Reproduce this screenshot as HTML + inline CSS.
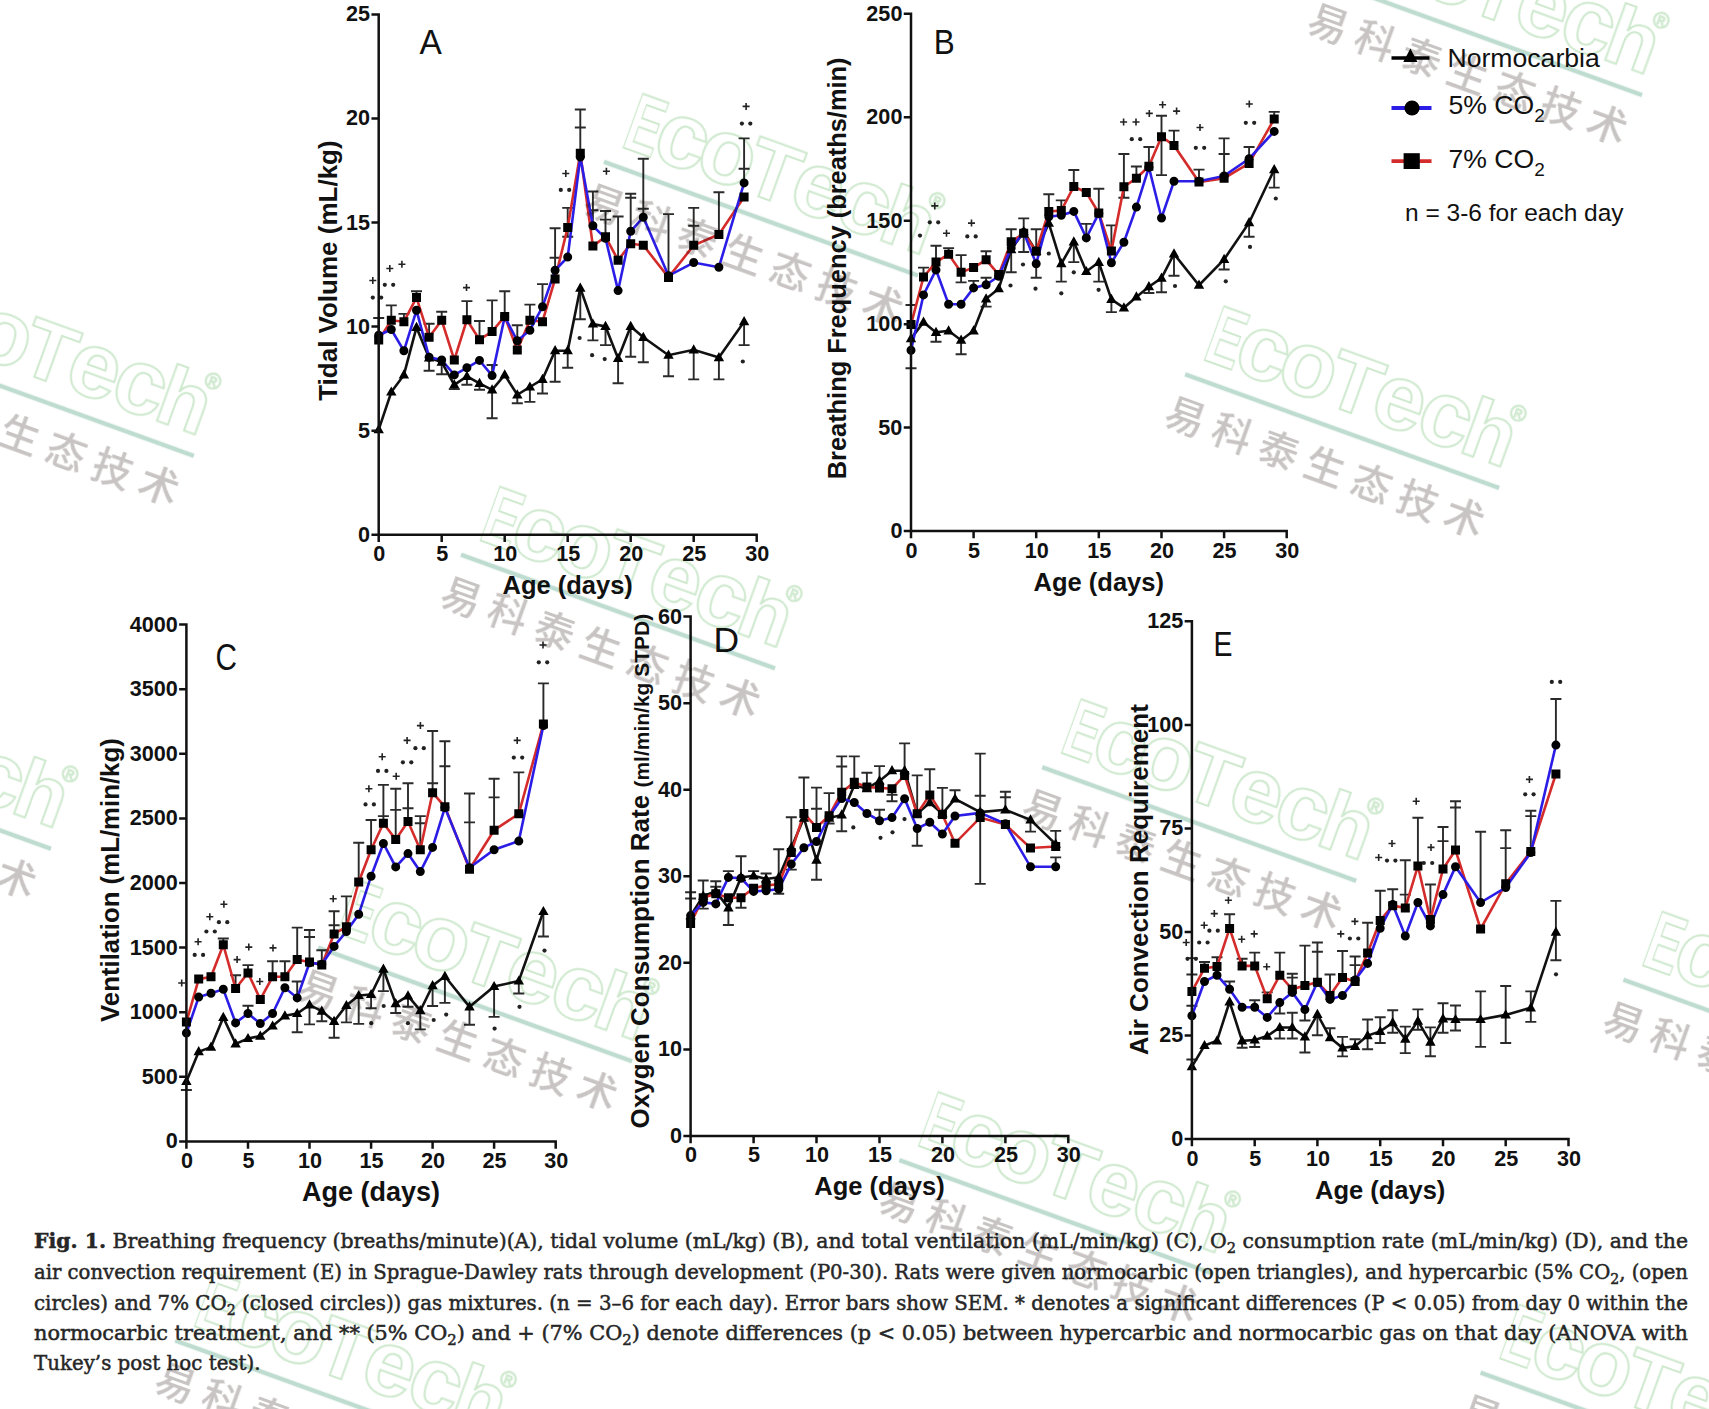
<!DOCTYPE html><html><head><meta charset="utf-8"><title>Fig. 1</title><style>html,body{margin:0;padding:0;background:#fff}body{width:1709px;height:1409px;overflow:hidden;position:relative}svg{position:absolute;left:0;top:0}</style></head><body>
<svg width="1709" height="1409" viewBox="0 0 1709 1409">
<rect width="1709" height="1409" fill="#fff"/>
<g><path d="M378.7 335.2V318M373.2 318H384.2M391.3 320.3V305.4M385.8 305.4H396.8M403.9 321.7V313.9M398.4 313.9H409.4M416.5 297.6V291.2M411 291.2H422M429.1 337.3V323.8M423.6 323.8H434.6M429.1 357.9V370.7M423.6 370.7H434.6M441.7 320.3V311.7M436.2 311.7H447.2M441.7 362.1V374.2M436.2 374.2H447.2M454.3 384.8V389.1M448.8 389.1H459.8M466.9 319.8V301.1M461.4 301.1H472.4M466.9 376.3V384.8M461.4 384.8H472.4M479.5 339.7V321M474 321H485M479.5 383.4V389.8M474 389.8H485M492.1 331.6V300.4M486.6 300.4H497.6M492.1 375.6V365M486.6 365H497.6M492.1 389.8V418.2M486.6 418.2H497.6M504.7 316.4V291.2M499.2 291.2H510.2M517.3 340.8V325.2M511.8 325.2H522.8M517.3 394.8V403.3M511.8 403.3H522.8M529.9 320.3V304.6M524.4 304.6H535.4M529.9 387V401.9M524.4 401.9H535.4M542.5 306.8V284.1M537 284.1H548M542.5 379.3V393.5M537 393.5H548M555.1 270.3V228.2M549.6 228.2H560.6M555.1 270.3V257.8M549.6 257.8H560.6M555.1 350.7V381.8M549.6 381.8H560.6M567.7 227.4V207.9M562.2 207.9H573.2M567.7 227.4V236.8M562.2 236.8H573.2M567.7 350.6V367.7M562.2 367.7H573.2M580.3 153.2V109.5M574.8 109.5H585.8M580.3 153.2V127.5M574.8 127.5H585.8M580.3 288.1V319.3M574.8 319.3H585.8M592.9 225.8V191.5M587.4 191.5H598.4M592.9 225.8V210.2M587.4 210.2H598.4M592.9 324V340.4M587.4 340.4H598.4M605.5 236.8V211M600 211H611M605.5 236.8V219.6M600 219.6H611M605.5 326.4V345.1M600 345.1H611M618.1 260.2V216.5M612.6 216.5H623.6M618.1 358.4V383.3M612.6 383.3H623.6M630.7 231.3V193.8M625.2 193.8H636.2M630.7 231.3V197.7M625.2 197.7H636.2M630.7 326.4V356.8M625.2 356.8H636.2M643.3 217.2V158.7M637.8 158.7H648.8M643.3 217.2V208.7M637.8 208.7H648.8M643.3 337.3V362.3M637.8 362.3H648.8M668.5 275.8V214.1M663 214.1H674M668.5 355.2V376.3M663 376.3H674M693.7 245.3V207.9M688.2 207.9H699.2M693.7 245.3V225.8M688.2 225.8H699.2M693.7 349.8V379.4M688.2 379.4H699.2M718.9 234.4V192.3M713.4 192.3H724.4M718.9 357.6V379.4M713.4 379.4H724.4M744.1 182.9V138.4M738.6 138.4H749.6M744.1 182.9V168.8M738.6 168.8H749.6M744.1 321.7V345.1M738.6 345.1H749.6" stroke="#2a2a2a" stroke-width="1.9" fill="none"/><polyline points="378.7,429.6 391.3,392 403.9,374.9 416.5,327.4 429.1,357.9 441.7,362.1 454.3,384.8 466.9,376.3 479.5,383.4 492.1,389.8 504.7,374.9 517.3,394.8 529.9,387 542.5,379.3 555.1,350.7 567.7,350.6 580.3,288.1 592.9,324 605.5,326.4 618.1,358.4 630.7,326.4 643.3,337.3 668.5,355.2 693.7,349.8 718.9,357.6 744.1,321.7" fill="none" stroke="#111" stroke-width="2.6" stroke-linejoin="miter"/><polyline points="378.7,340.1 391.3,320.3 403.9,321.7 416.5,297.6 429.1,337.3 441.7,320.3 454.3,360 466.9,319.8 479.5,339.7 492.1,331.6 504.7,316.4 517.3,350.1 529.9,320.3 542.5,321.7 555.1,278.9 567.7,227.4 580.3,153.2 592.9,246.1 605.5,236.8 618.1,260.2 630.7,243.8 643.3,245.3 668.5,277.4 693.7,245.3 718.9,234.4 744.1,197" fill="none" stroke="#d42b2b" stroke-width="2.6" stroke-linejoin="miter"/><polyline points="378.7,335.2 391.3,329.5 403.9,350.8 416.5,310.3 429.1,357.2 441.7,360 454.3,374.9 466.9,367.8 479.5,360.4 492.1,375.6 504.7,316.7 517.3,340.8 529.9,330.2 542.5,306.8 555.1,270.3 567.7,257.1 580.3,157.1 592.9,225.8 605.5,238.3 618.1,290.6 630.7,231.3 643.3,217.2 668.5,275.8 693.7,262.5 718.9,267.2 744.1,182.9" fill="none" stroke="#2b1de6" stroke-width="2.6" stroke-linejoin="miter"/><path d="M378.7 424L383.9 433.2L373.5 433.2ZM391.3 386.4L396.5 395.6L386.1 395.6ZM403.9 369.3L409.1 378.5L398.7 378.5ZM416.5 321.8L421.7 331L411.3 331ZM429.1 352.3L434.3 361.5L423.9 361.5ZM441.7 356.5L446.9 365.7L436.5 365.7ZM454.3 379.2L459.5 388.4L449.1 388.4ZM466.9 370.7L472.1 379.9L461.7 379.9ZM479.5 377.8L484.7 387L474.3 387ZM492.1 384.2L497.3 393.4L486.9 393.4ZM504.7 369.3L509.9 378.5L499.5 378.5ZM517.3 389.2L522.5 398.4L512.1 398.4ZM529.9 381.4L535.1 390.6L524.7 390.6ZM542.5 373.7L547.7 382.9L537.3 382.9ZM555.1 345.1L560.3 354.3L549.9 354.3ZM567.7 345L572.9 354.2L562.5 354.2ZM580.3 282.5L585.5 291.7L575.1 291.7ZM592.9 318.4L598.1 327.6L587.7 327.6ZM605.5 320.8L610.7 330L600.3 330ZM618.1 352.8L623.3 362L612.9 362ZM630.7 320.8L635.9 330L625.5 330ZM643.3 331.7L648.5 340.9L638.1 340.9ZM668.5 349.6L673.7 358.8L663.3 358.8ZM693.7 344.2L698.9 353.4L688.5 353.4ZM718.9 352L724.1 361.2L713.7 361.2ZM744.1 316.1L749.3 325.3L738.9 325.3Z" fill="#000"/><path d="M374.2 335.6h9v9h-9ZM386.8 315.8h9v9h-9ZM399.4 317.2h9v9h-9ZM412 293.1h9v9h-9ZM424.6 332.8h9v9h-9ZM437.2 315.8h9v9h-9ZM449.8 355.5h9v9h-9ZM462.4 315.3h9v9h-9ZM475 335.2h9v9h-9ZM487.6 327.1h9v9h-9ZM500.2 311.9h9v9h-9ZM512.8 345.6h9v9h-9ZM525.4 315.8h9v9h-9ZM538 317.2h9v9h-9ZM550.6 274.4h9v9h-9ZM563.2 222.9h9v9h-9ZM575.8 148.7h9v9h-9ZM588.4 241.6h9v9h-9ZM601 232.3h9v9h-9ZM613.6 255.7h9v9h-9ZM626.2 239.3h9v9h-9ZM638.8 240.8h9v9h-9ZM664 272.9h9v9h-9ZM689.2 240.8h9v9h-9ZM714.4 229.9h9v9h-9ZM739.6 192.5h9v9h-9Z" fill="#000"/><path d="M374.2 335.2a4.5 4.5 0 1 0 9 0a4.5 4.5 0 1 0 -9 0ZM386.8 329.5a4.5 4.5 0 1 0 9 0a4.5 4.5 0 1 0 -9 0ZM399.4 350.8a4.5 4.5 0 1 0 9 0a4.5 4.5 0 1 0 -9 0ZM412 310.3a4.5 4.5 0 1 0 9 0a4.5 4.5 0 1 0 -9 0ZM424.6 357.2a4.5 4.5 0 1 0 9 0a4.5 4.5 0 1 0 -9 0ZM437.2 360a4.5 4.5 0 1 0 9 0a4.5 4.5 0 1 0 -9 0ZM449.8 374.9a4.5 4.5 0 1 0 9 0a4.5 4.5 0 1 0 -9 0ZM462.4 367.8a4.5 4.5 0 1 0 9 0a4.5 4.5 0 1 0 -9 0ZM475 360.4a4.5 4.5 0 1 0 9 0a4.5 4.5 0 1 0 -9 0ZM487.6 375.6a4.5 4.5 0 1 0 9 0a4.5 4.5 0 1 0 -9 0ZM500.2 316.7a4.5 4.5 0 1 0 9 0a4.5 4.5 0 1 0 -9 0ZM512.8 340.8a4.5 4.5 0 1 0 9 0a4.5 4.5 0 1 0 -9 0ZM525.4 330.2a4.5 4.5 0 1 0 9 0a4.5 4.5 0 1 0 -9 0ZM538 306.8a4.5 4.5 0 1 0 9 0a4.5 4.5 0 1 0 -9 0ZM550.6 270.3a4.5 4.5 0 1 0 9 0a4.5 4.5 0 1 0 -9 0ZM563.2 257.1a4.5 4.5 0 1 0 9 0a4.5 4.5 0 1 0 -9 0ZM575.8 157.1a4.5 4.5 0 1 0 9 0a4.5 4.5 0 1 0 -9 0ZM588.4 225.8a4.5 4.5 0 1 0 9 0a4.5 4.5 0 1 0 -9 0ZM601 238.3a4.5 4.5 0 1 0 9 0a4.5 4.5 0 1 0 -9 0ZM613.6 290.6a4.5 4.5 0 1 0 9 0a4.5 4.5 0 1 0 -9 0ZM626.2 231.3a4.5 4.5 0 1 0 9 0a4.5 4.5 0 1 0 -9 0ZM638.8 217.2a4.5 4.5 0 1 0 9 0a4.5 4.5 0 1 0 -9 0ZM664 275.8a4.5 4.5 0 1 0 9 0a4.5 4.5 0 1 0 -9 0ZM689.2 262.5a4.5 4.5 0 1 0 9 0a4.5 4.5 0 1 0 -9 0ZM714.4 267.2a4.5 4.5 0 1 0 9 0a4.5 4.5 0 1 0 -9 0ZM739.6 182.9a4.5 4.5 0 1 0 9 0a4.5 4.5 0 1 0 -9 0Z" fill="#000"/><path d="M369.3 280.5h7M372.8 277v7" stroke="#222" stroke-width="1.6"/><path d="M386.3 268.5h7M389.8 265v7" stroke="#222" stroke-width="1.6"/><path d="M398.4 264.2h7M401.9 260.7v7" stroke="#222" stroke-width="1.6"/><path d="M463 287.6h7M466.5 284.1v7" stroke="#222" stroke-width="1.6"/><path d="M562.3 173.5h7M565.8 170v7" stroke="#222" stroke-width="1.6"/><path d="M602.9 171.2h7M606.4 167.7v7" stroke="#222" stroke-width="1.6"/><path d="M742.6 106.4h7M746.1 102.9v7" stroke="#222" stroke-width="1.6"/><circle cx="384.8" cy="284.8" r="2.1" fill="#222"/><circle cx="393.2" cy="284.8" r="2.1" fill="#222"/><circle cx="372.8" cy="297.6" r="2.1" fill="#222"/><circle cx="381.2" cy="297.6" r="2.1" fill="#222"/><circle cx="560.8" cy="189.9" r="2.1" fill="#222"/><circle cx="569.2" cy="189.9" r="2.1" fill="#222"/><circle cx="741.9" cy="123.6" r="2.1" fill="#222"/><circle cx="750.3" cy="123.6" r="2.1" fill="#222"/><circle cx="579.6" cy="338" r="2.1" fill="#222"/><circle cx="592.1" cy="355.2" r="2.1" fill="#222"/><circle cx="604.7" cy="359.1" r="2.1" fill="#222"/><circle cx="742.8" cy="361.5" r="2.1" fill="#222"/><path d="M378.7 14.5V534.7H756.7M378.7 534.7v6M441.7 534.7v6M504.7 534.7v6M567.7 534.7v6M630.7 534.7v6M693.7 534.7v6M756.7 534.7v6M378.7 534.7h-6M378.7 430.7h-6M378.7 326.6h-6M378.7 222.6h-6M378.7 118.5h-6M378.7 14.5h-6" stroke="#111" stroke-width="2.5" fill="none" stroke-linecap="square"/><g font-family='"Liberation Sans", Arial, sans-serif' font-weight="bold" font-size="21.6" fill="#111"><text x="379.2" y="561.2" text-anchor="middle">0</text><text x="442.2" y="561.2" text-anchor="middle">5</text><text x="505.2" y="561.2" text-anchor="middle">10</text><text x="568.2" y="561.2" text-anchor="middle">15</text><text x="631.2" y="561.2" text-anchor="middle">20</text><text x="694.2" y="561.2" text-anchor="middle">25</text><text x="757.2" y="561.2" text-anchor="middle">30</text><text x="370.1" y="541.6" text-anchor="end">0</text><text x="370.1" y="437.6" text-anchor="end">5</text><text x="370.1" y="333.5" text-anchor="end">10</text><text x="370.1" y="229.5" text-anchor="end">15</text><text x="370.1" y="125.4" text-anchor="end">20</text><text x="370.1" y="21.4" text-anchor="end">25</text></g><text x="567.7" y="594.2" text-anchor="middle" font-family='"Liberation Sans", Arial, sans-serif' font-weight="bold" font-size="25.5" fill="#111">Age (days)</text></g>
<g><path d="M911 324.6V305M905.5 305H916.5M911 350.3V368.3M905.5 368.3H916.5M923.5 277V267.6M918 267.6H929M936 262.1V245.7M930.5 245.7H941.5M936 332.4V341.7M930.5 341.7H941.5M948.6 254.3V248.1M943.1 248.1H954.1M961.1 272.3V255.1M955.6 255.1H966.6M961.1 272.3V282.4M955.6 282.4H966.6M961.1 340.2V354.2M955.6 354.2H966.6M973.6 287.9V280.9M968.1 280.9H979.1M986.1 259.8V251.2M980.6 251.2H991.6M986.1 284.8V277.7M980.6 277.7H991.6M986.1 298.8V306.6M980.6 306.6H991.6M1011.2 241.8V229.3M1005.7 229.3H1016.7M1011.2 249.6V272.3M1005.7 272.3H1016.7M1023.7 231.7V218.4M1018.2 218.4H1029.2M1023.7 233.2V252M1018.2 252H1029.2M1036.2 251.2V229.3M1030.7 229.3H1041.7M1036.2 263.7V277.7M1030.7 277.7H1041.7M1048.8 211.4V194.2M1043.3 194.2H1054.3M1061.3 210.6V200.4M1055.8 200.4H1066.8M1061.3 263.7V281.6M1055.8 281.6H1066.8M1073.8 186.4V170M1068.3 170H1079.3M1073.8 241.8V262.1M1068.3 262.1H1079.3M1086.3 237.9V223.9M1080.8 223.9H1091.8M1098.8 213.1V188.7M1093.3 188.7H1104.3M1098.8 262.3V281.6M1093.3 281.6H1104.3M1111.4 251V225.4M1105.9 225.4H1116.9M1111.4 299.4V312.1M1105.9 312.1H1116.9M1123.9 186.8V154M1118.4 154H1129.4M1123.9 186.8V197.7M1118.4 197.7H1129.4M1136.4 178.2V166.5M1130.9 166.5H1141.9M1148.9 166.2V147M1143.4 147H1154.4M1148.9 286.7V293M1143.4 293H1154.4M1161.5 136.8V115.8M1156 115.8H1167M1161.5 136.8V175.1M1156 175.1H1167M1161.5 278.1V292.2M1156 292.2H1167M1174 145.4V130.6M1168.5 130.6H1179.5M1174 253.9V275.8M1168.5 275.8H1179.5M1199 181.3V169.6M1193.5 169.6H1204.5M1224.1 175.9V138.4M1218.6 138.4H1229.6M1224.1 175.9V154M1218.6 154H1229.6M1224.1 259.4V269.5M1218.6 269.5H1229.6M1249.1 158.7V147M1243.6 147H1254.6M1249.1 222.7V236.8M1243.6 236.8H1254.6M1274.2 118.9V111.9M1268.7 111.9H1279.7M1274.2 169.6V187.6M1268.7 187.6H1279.7" stroke="#2a2a2a" stroke-width="1.9" fill="none"/><polyline points="911,338.6 923.5,322.2 936,332.4 948.6,330.8 961.1,340.2 973.6,330.8 986.1,298.8 998.7,288.7 1011.2,249.6 1023.7,231.7 1036.2,251.2 1048.8,223.1 1061.3,263.7 1073.8,241.8 1086.3,271.5 1098.8,262.3 1111.4,299.4 1123.9,307.8 1136.4,296.9 1148.9,286.7 1161.5,278.1 1174,253.9 1199,285.2 1224.1,259.4 1249.1,222.7 1274.2,169.6" fill="none" stroke="#111" stroke-width="2.6" stroke-linejoin="miter"/><polyline points="911,324.6 923.5,277 936,262.1 948.6,254.3 961.1,272.3 973.6,267.6 986.1,259.8 998.7,274.6 1011.2,241.8 1023.7,233.2 1036.2,251.2 1048.8,211.4 1061.3,210.6 1073.8,186.4 1086.3,192.6 1098.8,213.1 1111.4,251 1123.9,186.8 1136.4,178.2 1148.9,166.2 1161.5,136.8 1174,145.4 1199,182.1 1224.1,178.2 1249.1,163.4 1274.2,118.9" fill="none" stroke="#d42b2b" stroke-width="2.6" stroke-linejoin="miter"/><polyline points="911,350.3 923.5,294.9 936,269.9 948.6,304.3 961.1,304.3 973.6,287.9 986.1,284.8 998.7,276.2 1011.2,248.1 1023.7,232.5 1036.2,263.7 1048.8,216.8 1061.3,215.3 1073.8,211.4 1086.3,237.9 1098.8,213.5 1111.4,262.7 1123.9,242.2 1136.4,207.1 1148.9,167.3 1161.5,218 1174,181.3 1199,181.3 1224.1,175.9 1249.1,158.7 1274.2,131.4" fill="none" stroke="#2b1de6" stroke-width="2.6" stroke-linejoin="miter"/><path d="M911 333L916.2 342.2L905.8 342.2ZM923.5 316.6L928.7 325.8L918.3 325.8ZM936 326.8L941.2 336L930.8 336ZM948.6 325.2L953.8 334.4L943.4 334.4ZM961.1 334.6L966.3 343.8L955.9 343.8ZM973.6 325.2L978.8 334.4L968.4 334.4ZM986.1 293.2L991.3 302.4L980.9 302.4ZM998.7 283.1L1003.9 292.3L993.5 292.3ZM1011.2 244L1016.4 253.2L1006 253.2ZM1023.7 226.1L1028.9 235.3L1018.5 235.3ZM1036.2 245.6L1041.4 254.8L1031 254.8ZM1048.8 217.5L1054 226.7L1043.6 226.7ZM1061.3 258.1L1066.5 267.3L1056.1 267.3ZM1073.8 236.2L1079 245.4L1068.6 245.4ZM1086.3 265.9L1091.5 275.1L1081.1 275.1ZM1098.8 256.7L1104 265.9L1093.6 265.9ZM1111.4 293.8L1116.6 303L1106.2 303ZM1123.9 302.2L1129.1 311.4L1118.7 311.4ZM1136.4 291.3L1141.6 300.5L1131.2 300.5ZM1148.9 281.1L1154.1 290.3L1143.7 290.3ZM1161.5 272.5L1166.7 281.7L1156.3 281.7ZM1174 248.3L1179.2 257.5L1168.8 257.5ZM1199 279.6L1204.2 288.8L1193.8 288.8ZM1224.1 253.8L1229.3 263L1218.9 263ZM1249.1 217.1L1254.3 226.3L1243.9 226.3ZM1274.2 164L1279.4 173.2L1269 173.2Z" fill="#000"/><path d="M906.5 320.1h9v9h-9ZM919 272.5h9v9h-9ZM931.5 257.6h9v9h-9ZM944.1 249.8h9v9h-9ZM956.6 267.8h9v9h-9ZM969.1 263.1h9v9h-9ZM981.6 255.3h9v9h-9ZM994.2 270.1h9v9h-9ZM1006.7 237.3h9v9h-9ZM1019.2 228.7h9v9h-9ZM1031.7 246.7h9v9h-9ZM1044.3 206.9h9v9h-9ZM1056.8 206.1h9v9h-9ZM1069.3 181.9h9v9h-9ZM1081.8 188.1h9v9h-9ZM1094.3 208.6h9v9h-9ZM1106.9 246.5h9v9h-9ZM1119.4 182.3h9v9h-9ZM1131.9 173.7h9v9h-9ZM1144.4 161.7h9v9h-9ZM1157 132.3h9v9h-9ZM1169.5 140.9h9v9h-9ZM1194.5 177.6h9v9h-9ZM1219.6 173.7h9v9h-9ZM1244.6 158.9h9v9h-9ZM1269.7 114.4h9v9h-9Z" fill="#000"/><path d="M906.5 350.3a4.5 4.5 0 1 0 9 0a4.5 4.5 0 1 0 -9 0ZM919 294.9a4.5 4.5 0 1 0 9 0a4.5 4.5 0 1 0 -9 0ZM931.5 269.9a4.5 4.5 0 1 0 9 0a4.5 4.5 0 1 0 -9 0ZM944.1 304.3a4.5 4.5 0 1 0 9 0a4.5 4.5 0 1 0 -9 0ZM956.6 304.3a4.5 4.5 0 1 0 9 0a4.5 4.5 0 1 0 -9 0ZM969.1 287.9a4.5 4.5 0 1 0 9 0a4.5 4.5 0 1 0 -9 0ZM981.6 284.8a4.5 4.5 0 1 0 9 0a4.5 4.5 0 1 0 -9 0ZM994.2 276.2a4.5 4.5 0 1 0 9 0a4.5 4.5 0 1 0 -9 0ZM1006.7 248.1a4.5 4.5 0 1 0 9 0a4.5 4.5 0 1 0 -9 0ZM1019.2 232.5a4.5 4.5 0 1 0 9 0a4.5 4.5 0 1 0 -9 0ZM1031.7 263.7a4.5 4.5 0 1 0 9 0a4.5 4.5 0 1 0 -9 0ZM1044.3 216.8a4.5 4.5 0 1 0 9 0a4.5 4.5 0 1 0 -9 0ZM1056.8 215.3a4.5 4.5 0 1 0 9 0a4.5 4.5 0 1 0 -9 0ZM1069.3 211.4a4.5 4.5 0 1 0 9 0a4.5 4.5 0 1 0 -9 0ZM1081.8 237.9a4.5 4.5 0 1 0 9 0a4.5 4.5 0 1 0 -9 0ZM1094.3 213.5a4.5 4.5 0 1 0 9 0a4.5 4.5 0 1 0 -9 0ZM1106.9 262.7a4.5 4.5 0 1 0 9 0a4.5 4.5 0 1 0 -9 0ZM1119.4 242.2a4.5 4.5 0 1 0 9 0a4.5 4.5 0 1 0 -9 0ZM1131.9 207.1a4.5 4.5 0 1 0 9 0a4.5 4.5 0 1 0 -9 0ZM1144.4 167.3a4.5 4.5 0 1 0 9 0a4.5 4.5 0 1 0 -9 0ZM1157 218a4.5 4.5 0 1 0 9 0a4.5 4.5 0 1 0 -9 0ZM1169.5 181.3a4.5 4.5 0 1 0 9 0a4.5 4.5 0 1 0 -9 0ZM1194.5 181.3a4.5 4.5 0 1 0 9 0a4.5 4.5 0 1 0 -9 0ZM1219.6 175.9a4.5 4.5 0 1 0 9 0a4.5 4.5 0 1 0 -9 0ZM1244.6 158.7a4.5 4.5 0 1 0 9 0a4.5 4.5 0 1 0 -9 0ZM1269.7 131.4a4.5 4.5 0 1 0 9 0a4.5 4.5 0 1 0 -9 0Z" fill="#000"/><path d="M931.3 205.9h7M934.8 202.4v7" stroke="#222" stroke-width="1.6"/><path d="M943 233.2h7M946.5 229.7v7" stroke="#222" stroke-width="1.6"/><path d="M968 223.1h7M971.5 219.6v7" stroke="#222" stroke-width="1.6"/><path d="M1120.1 122h7M1123.6 118.5v7" stroke="#222" stroke-width="1.6"/><path d="M1132.5 122h7M1136 118.5v7" stroke="#222" stroke-width="1.6"/><path d="M1145.8 113.4h7M1149.3 109.9v7" stroke="#222" stroke-width="1.6"/><path d="M1159.1 104.8h7M1162.6 101.3v7" stroke="#222" stroke-width="1.6"/><path d="M1173.1 111.1h7M1176.6 107.6v7" stroke="#222" stroke-width="1.6"/><path d="M1196.5 127.5h7M1200 124v7" stroke="#222" stroke-width="1.6"/><path d="M1245.8 104h7M1249.3 100.5v7" stroke="#222" stroke-width="1.6"/><circle cx="929.8" cy="222.3" r="2.1" fill="#222"/><circle cx="938.2" cy="222.3" r="2.1" fill="#222"/><circle cx="967.3" cy="236.4" r="2.1" fill="#222"/><circle cx="975.7" cy="236.4" r="2.1" fill="#222"/><circle cx="1131.8" cy="139.2" r="2.1" fill="#222"/><circle cx="1140.2" cy="139.2" r="2.1" fill="#222"/><circle cx="1195.8" cy="147.8" r="2.1" fill="#222"/><circle cx="1204.2" cy="147.8" r="2.1" fill="#222"/><circle cx="1245.8" cy="122.8" r="2.1" fill="#222"/><circle cx="1254.2" cy="122.8" r="2.1" fill="#222"/><circle cx="920" cy="235.6" r="2.1" fill="#222"/><circle cx="1010.5" cy="285.5" r="2.1" fill="#222"/><circle cx="1023" cy="264.5" r="2.1" fill="#222"/><circle cx="1035.5" cy="288.7" r="2.1" fill="#222"/><circle cx="1048.8" cy="253.5" r="2.1" fill="#222"/><circle cx="1061.3" cy="293.3" r="2.1" fill="#222"/><circle cx="1073.8" cy="272.3" r="2.1" fill="#222"/><circle cx="1098.6" cy="289.8" r="2.1" fill="#222"/><circle cx="1175" cy="286" r="2.1" fill="#222"/><circle cx="1225.8" cy="281.3" r="2.1" fill="#222"/><circle cx="1250" cy="246.9" r="2.1" fill="#222"/><circle cx="1275.8" cy="198.5" r="2.1" fill="#222"/><path d="M911 13.8V531.1H1286.7M911 531.1v6M973.6 531.1v6M1036.2 531.1v6M1098.8 531.1v6M1161.5 531.1v6M1224.1 531.1v6M1286.7 531.1v6M911 531.1h-6M911 427.6h-6M911 324.2h-6M911 220.7h-6M911 117.2h-6M911 13.8h-6" stroke="#111" stroke-width="2.5" fill="none" stroke-linecap="square"/><g font-family='"Liberation Sans", Arial, sans-serif' font-weight="bold" font-size="21.6" fill="#111"><text x="911.5" y="557.6" text-anchor="middle">0</text><text x="974.1" y="557.6" text-anchor="middle">5</text><text x="1036.7" y="557.6" text-anchor="middle">10</text><text x="1099.3" y="557.6" text-anchor="middle">15</text><text x="1162" y="557.6" text-anchor="middle">20</text><text x="1224.6" y="557.6" text-anchor="middle">25</text><text x="1287.2" y="557.6" text-anchor="middle">30</text><text x="902.4" y="538" text-anchor="end">0</text><text x="902.4" y="434.5" text-anchor="end">50</text><text x="902.4" y="331.1" text-anchor="end">100</text><text x="902.4" y="227.6" text-anchor="end">150</text><text x="902.4" y="124.1" text-anchor="end">200</text><text x="902.4" y="20.6" text-anchor="end">250</text></g><text x="1098.8" y="590.6" text-anchor="middle" font-family='"Liberation Sans", Arial, sans-serif' font-weight="bold" font-size="25.5" fill="#111">Age (days)</text></g>
<g><path d="M186.4 1081.4V1090M180.9 1090H191.9M223.3 944.8V938.5M217.8 938.5H228.8M235.6 988.5V975.2M230.1 975.2H241.1M248 972.9V965.1M242.5 965.1H253.5M248 1013.5V1005.7M242.5 1005.7H253.5M272.6 976.8V961.2M267.1 961.2H278.1M284.9 976.8V961.2M279.4 961.2H290.4M297.2 959.6V927.6M291.7 927.6H302.7M297.2 997.9V981.5M291.7 981.5H302.7M297.2 1013.5V1032.2M291.7 1032.2H302.7M309.5 962V930M304 930H315M309.5 962V937M304 937H315M309.5 1004.9V1024.4M304 1024.4H315M321.8 964.3V950.3M316.3 950.3H327.3M321.8 1011.1V1021.3M316.3 1021.3H327.3M334.1 933.9V911.2M328.6 911.2H339.6M334.1 933.9V925.3M328.6 925.3H339.6M334.1 1021.3V1037.7M328.6 1037.7H339.6M346.4 926.8V896.4M340.9 896.4H351.9M346.4 1005.5V1022.4M340.9 1022.4H351.9M358.7 882V842.7M353.2 842.7H364.2M358.7 995.5V1023.9M353.2 1023.9H364.2M371.1 849.7V820M365.6 820H376.6M371.1 994.5V1008.3M365.6 1008.3H376.6M383.4 823.2V784.9M377.9 784.9H388.9M383.4 823.2V816.1M377.9 816.1H388.9M383.4 969.2V991.1M377.9 991.1H388.9M395.7 839.5V788.8M390.2 788.8H401.2M395.7 839.5V809.9M390.2 809.9H401.2M395.7 1003.6V1013M390.2 1013H401.2M408 821.6V783.3M402.5 783.3H413.5M408 821.6V808.3M402.5 808.3H413.5M408 995.8V1006.8M402.5 1006.8H413.5M420.3 849.7V816.1M414.8 816.1H425.8M420.3 849.7V823.2M414.8 823.2H425.8M420.3 1010.7V1029.4M414.8 1029.4H425.8M432.6 792.7V731M427.1 731H438.1M432.6 792.7V783.3M427.1 783.3H438.1M432.6 985.7V1006M427.1 1006H438.1M444.9 806.8V741.2M439.4 741.2H450.4M444.9 806.8V766.2M439.4 766.2H450.4M444.9 976.3V1002.9M439.4 1002.9H450.4M469.5 867.7V793.5M464 793.5H475M469.5 867.7V822.4M464 822.4H475M469.5 1006.8V1024.7M464 1024.7H475M494.1 830.2V778.7M488.6 778.7H499.6M494.1 830.2V797.4M488.6 797.4H499.6M494.1 986.5V1016.9M488.6 1016.9H499.6M518.8 813.8V772.4M513.3 772.4H524.3M518.8 981V993.5M513.3 993.5H524.3M543.4 724V683.4M537.9 683.4H548.9M543.4 911.5V936.5M537.9 936.5H548.9" stroke="#2a2a2a" stroke-width="1.9" fill="none"/><polyline points="186.4,1081.4 198.7,1051.7 211,1047.1 223.3,1017.4 235.6,1043.9 248,1038.5 260.3,1036.1 272.6,1026 284.9,1015.8 297.2,1013.5 309.5,1004.9 321.8,1011.1 334.1,1021.3 346.4,1005.5 358.7,995.5 371.1,994.5 383.4,969.2 395.7,1003.6 408,995.8 420.3,1010.7 432.6,985.7 444.9,976.3 469.5,1006.8 494.1,986.5 518.8,981 543.4,911.5" fill="none" stroke="#111" stroke-width="2.6" stroke-linejoin="miter"/><polyline points="186.4,1022.1 198.7,979.1 211,976.8 223.3,944.8 235.6,988.5 248,972.9 260.3,999.4 272.6,976.8 284.9,976.8 297.2,959.6 309.5,962 321.8,965.1 334.1,933.9 346.4,926.8 358.7,882 371.1,849.7 383.4,823.2 395.7,839.5 408,821.6 420.3,849.7 432.6,792.7 444.9,806.8 469.5,869.2 494.1,830.2 518.8,813.8 543.4,724" fill="none" stroke="#d42b2b" stroke-width="2.6" stroke-linejoin="miter"/><polyline points="186.4,1033 198.7,997.1 211,993.2 223.3,989.3 235.6,1022.9 248,1013.5 260.3,1023.6 272.6,1013.5 284.9,987.7 297.2,997.9 309.5,962.7 321.8,964.3 334.1,946.4 346.4,931.5 358.7,914.3 371.1,876.2 383.4,843.5 395.7,866.9 408,853.6 420.3,871.6 432.6,847.4 444.9,807.5 469.5,867.7 494.1,849.7 518.8,841.1 543.4,725.6" fill="none" stroke="#2b1de6" stroke-width="2.6" stroke-linejoin="miter"/><path d="M186.4 1075.8L191.6 1085L181.2 1085ZM198.7 1046.1L203.9 1055.3L193.5 1055.3ZM211 1041.5L216.2 1050.7L205.8 1050.7ZM223.3 1011.8L228.5 1021L218.1 1021ZM235.6 1038.3L240.8 1047.5L230.4 1047.5ZM248 1032.9L253.2 1042.1L242.8 1042.1ZM260.3 1030.5L265.5 1039.7L255.1 1039.7ZM272.6 1020.4L277.8 1029.6L267.4 1029.6ZM284.9 1010.2L290.1 1019.4L279.7 1019.4ZM297.2 1007.9L302.4 1017.1L292 1017.1ZM309.5 999.3L314.7 1008.5L304.3 1008.5ZM321.8 1005.5L327 1014.7L316.6 1014.7ZM334.1 1015.7L339.3 1024.9L328.9 1024.9ZM346.4 999.9L351.6 1009.1L341.2 1009.1ZM358.7 989.9L363.9 999.1L353.5 999.1ZM371.1 988.9L376.2 998.1L365.9 998.1ZM383.4 963.6L388.6 972.8L378.2 972.8ZM395.7 998L400.9 1007.2L390.5 1007.2ZM408 990.2L413.2 999.4L402.8 999.4ZM420.3 1005.1L425.5 1014.3L415.1 1014.3ZM432.6 980.1L437.8 989.3L427.4 989.3ZM444.9 970.7L450.1 979.9L439.7 979.9ZM469.5 1001.2L474.7 1010.4L464.3 1010.4ZM494.1 980.9L499.3 990.1L488.9 990.1ZM518.8 975.4L524 984.6L513.6 984.6ZM543.4 905.9L548.6 915.1L538.2 915.1Z" fill="#000"/><path d="M181.9 1017.6h9v9h-9ZM194.2 974.6h9v9h-9ZM206.5 972.3h9v9h-9ZM218.8 940.3h9v9h-9ZM231.1 984h9v9h-9ZM243.5 968.4h9v9h-9ZM255.8 994.9h9v9h-9ZM268.1 972.3h9v9h-9ZM280.4 972.3h9v9h-9ZM292.7 955.1h9v9h-9ZM305 957.5h9v9h-9ZM317.3 960.6h9v9h-9ZM329.6 929.4h9v9h-9ZM341.9 922.3h9v9h-9ZM354.2 877.5h9v9h-9ZM366.6 845.2h9v9h-9ZM378.9 818.7h9v9h-9ZM391.2 835h9v9h-9ZM403.5 817.1h9v9h-9ZM415.8 845.2h9v9h-9ZM428.1 788.2h9v9h-9ZM440.4 802.3h9v9h-9ZM465 864.7h9v9h-9ZM489.6 825.7h9v9h-9ZM514.3 809.3h9v9h-9ZM538.9 719.5h9v9h-9Z" fill="#000"/><path d="M181.9 1033a4.5 4.5 0 1 0 9 0a4.5 4.5 0 1 0 -9 0ZM194.2 997.1a4.5 4.5 0 1 0 9 0a4.5 4.5 0 1 0 -9 0ZM206.5 993.2a4.5 4.5 0 1 0 9 0a4.5 4.5 0 1 0 -9 0ZM218.8 989.3a4.5 4.5 0 1 0 9 0a4.5 4.5 0 1 0 -9 0ZM231.1 1022.9a4.5 4.5 0 1 0 9 0a4.5 4.5 0 1 0 -9 0ZM243.5 1013.5a4.5 4.5 0 1 0 9 0a4.5 4.5 0 1 0 -9 0ZM255.8 1023.6a4.5 4.5 0 1 0 9 0a4.5 4.5 0 1 0 -9 0ZM268.1 1013.5a4.5 4.5 0 1 0 9 0a4.5 4.5 0 1 0 -9 0ZM280.4 987.7a4.5 4.5 0 1 0 9 0a4.5 4.5 0 1 0 -9 0ZM292.7 997.9a4.5 4.5 0 1 0 9 0a4.5 4.5 0 1 0 -9 0ZM305 962.7a4.5 4.5 0 1 0 9 0a4.5 4.5 0 1 0 -9 0ZM317.3 964.3a4.5 4.5 0 1 0 9 0a4.5 4.5 0 1 0 -9 0ZM329.6 946.4a4.5 4.5 0 1 0 9 0a4.5 4.5 0 1 0 -9 0ZM341.9 931.5a4.5 4.5 0 1 0 9 0a4.5 4.5 0 1 0 -9 0ZM354.2 914.3a4.5 4.5 0 1 0 9 0a4.5 4.5 0 1 0 -9 0ZM366.6 876.2a4.5 4.5 0 1 0 9 0a4.5 4.5 0 1 0 -9 0ZM378.9 843.5a4.5 4.5 0 1 0 9 0a4.5 4.5 0 1 0 -9 0ZM391.2 866.9a4.5 4.5 0 1 0 9 0a4.5 4.5 0 1 0 -9 0ZM403.5 853.6a4.5 4.5 0 1 0 9 0a4.5 4.5 0 1 0 -9 0ZM415.8 871.6a4.5 4.5 0 1 0 9 0a4.5 4.5 0 1 0 -9 0ZM428.1 847.4a4.5 4.5 0 1 0 9 0a4.5 4.5 0 1 0 -9 0ZM440.4 807.5a4.5 4.5 0 1 0 9 0a4.5 4.5 0 1 0 -9 0ZM465 867.7a4.5 4.5 0 1 0 9 0a4.5 4.5 0 1 0 -9 0ZM489.6 849.7a4.5 4.5 0 1 0 9 0a4.5 4.5 0 1 0 -9 0ZM514.3 841.1a4.5 4.5 0 1 0 9 0a4.5 4.5 0 1 0 -9 0ZM538.9 725.6a4.5 4.5 0 1 0 9 0a4.5 4.5 0 1 0 -9 0Z" fill="#000"/><path d="M220.4 904.2h7M223.9 900.7v7" stroke="#222" stroke-width="1.6"/><path d="M206.3 916.7h7M209.8 913.2v7" stroke="#222" stroke-width="1.6"/><path d="M194.6 941.7h7M198.1 938.2v7" stroke="#222" stroke-width="1.6"/><path d="M178.2 983h7M181.7 979.5v7" stroke="#222" stroke-width="1.6"/><path d="M245.3 947.1h7M248.8 943.6v7" stroke="#222" stroke-width="1.6"/><path d="M233.6 959.6h7M237.1 956.1v7" stroke="#222" stroke-width="1.6"/><path d="M256.3 981.5h7M259.8 978v7" stroke="#222" stroke-width="1.6"/><path d="M269.5 947.9h7M273 944.4v7" stroke="#222" stroke-width="1.6"/><path d="M329.7 898.7h7M333.2 895.2v7" stroke="#222" stroke-width="1.6"/><path d="M365.4 788.8h7M368.9 785.3v7" stroke="#222" stroke-width="1.6"/><path d="M378.7 756.8h7M382.2 753.3v7" stroke="#222" stroke-width="1.6"/><path d="M392.7 776.3h7M396.2 772.8v7" stroke="#222" stroke-width="1.6"/><path d="M403.6 740.4h7M407.1 736.9v7" stroke="#222" stroke-width="1.6"/><path d="M416.9 725.6h7M420.4 722.1v7" stroke="#222" stroke-width="1.6"/><path d="M513.7 740.4h7M517.2 736.9v7" stroke="#222" stroke-width="1.6"/><path d="M539.5 645h7M543 641.5v7" stroke="#222" stroke-width="1.6"/><circle cx="218.9" cy="922.2" r="2.1" fill="#222"/><circle cx="227.3" cy="922.2" r="2.1" fill="#222"/><circle cx="206.4" cy="931.5" r="2.1" fill="#222"/><circle cx="214.8" cy="931.5" r="2.1" fill="#222"/><circle cx="194.7" cy="954.9" r="2.1" fill="#222"/><circle cx="203.1" cy="954.9" r="2.1" fill="#222"/><circle cx="365.5" cy="804.4" r="2.1" fill="#222"/><circle cx="373.9" cy="804.4" r="2.1" fill="#222"/><circle cx="378" cy="770.9" r="2.1" fill="#222"/><circle cx="386.4" cy="770.9" r="2.1" fill="#222"/><circle cx="402.9" cy="762.3" r="2.1" fill="#222"/><circle cx="411.3" cy="762.3" r="2.1" fill="#222"/><circle cx="415.4" cy="748.2" r="2.1" fill="#222"/><circle cx="423.8" cy="748.2" r="2.1" fill="#222"/><circle cx="513.8" cy="757.6" r="2.1" fill="#222"/><circle cx="522.2" cy="757.6" r="2.1" fill="#222"/><circle cx="538.8" cy="662.3" r="2.1" fill="#222"/><circle cx="547.2" cy="662.3" r="2.1" fill="#222"/><circle cx="371.2" cy="1023.2" r="2.1" fill="#222"/><circle cx="383.7" cy="1006" r="2.1" fill="#222"/><circle cx="407.9" cy="1023.2" r="2.1" fill="#222"/><circle cx="433.7" cy="1020" r="2.1" fill="#222"/><circle cx="446.2" cy="1014.6" r="2.1" fill="#222"/><circle cx="494.6" cy="1028.6" r="2.1" fill="#222"/><circle cx="519.5" cy="1006.8" r="2.1" fill="#222"/><circle cx="544.5" cy="950.6" r="2.1" fill="#222"/><path d="M186.4 624.6V1141.4H555.7M186.4 1141.4v6M248 1141.4v6M309.5 1141.4v6M371.1 1141.4v6M432.6 1141.4v6M494.1 1141.4v6M555.7 1141.4v6M186.4 1141.4h-6M186.4 1076.8h-6M186.4 1012.2h-6M186.4 947.6h-6M186.4 883h-6M186.4 818.4h-6M186.4 753.8h-6M186.4 689.2h-6M186.4 624.6h-6" stroke="#111" stroke-width="2.5" fill="none" stroke-linecap="square"/><g font-family='"Liberation Sans", Arial, sans-serif' font-weight="bold" font-size="21.6" fill="#111"><text x="186.9" y="1167.9" text-anchor="middle">0</text><text x="248.5" y="1167.9" text-anchor="middle">5</text><text x="310" y="1167.9" text-anchor="middle">10</text><text x="371.6" y="1167.9" text-anchor="middle">15</text><text x="433.1" y="1167.9" text-anchor="middle">20</text><text x="494.6" y="1167.9" text-anchor="middle">25</text><text x="556.2" y="1167.9" text-anchor="middle">30</text><text x="177.8" y="1148.3" text-anchor="end">0</text><text x="177.8" y="1083.7" text-anchor="end">500</text><text x="177.8" y="1019.1" text-anchor="end">1000</text><text x="177.8" y="954.5" text-anchor="end">1500</text><text x="177.8" y="889.9" text-anchor="end">2000</text><text x="177.8" y="825.3" text-anchor="end">2500</text><text x="177.8" y="760.7" text-anchor="end">3000</text><text x="177.8" y="696.1" text-anchor="end">3500</text><text x="177.8" y="631.5" text-anchor="end">4000</text></g><text x="371.1" y="1200.9" text-anchor="middle" font-family='"Liberation Sans", Arial, sans-serif' font-weight="bold" font-size="27" fill="#111">Age (days)</text></g>
<g><path d="M690.6 915.6V892.2M685.1 892.2H696.1M690.6 915.6V898.5M685.1 898.5H696.1M703.2 896.1V880.5M697.7 880.5H708.7M703.2 902.4V908.6M697.7 908.6H708.7M715.8 891.4V881.3M710.3 881.3H721.3M715.8 891.4V886.8M710.3 886.8H721.3M728.4 877.4V871.1M722.9 871.1H733.9M728.4 907.8V925M722.9 925H733.9M741 877.4V856.3M735.5 856.3H746.5M741 897.7V907.8M735.5 907.8H746.5M753.6 875.8V871.1M748.1 871.1H759.1M766.1 879V873.5M760.6 873.5H771.6M778.7 877.4V849.3M773.2 849.3H784.2M778.7 889.1V893.8M773.2 893.8H784.2M791.3 847.7V817.3M785.8 817.3H796.8M791.3 864.1V869.6M785.8 869.6H796.8M803.9 813.4V777.5M798.4 777.5H809.4M816.5 827.4V787.6M811 787.6H822M816.5 827.4V808.7M811 808.7H822M816.5 860.2V879.7M811 879.7H822M829.1 815.7V793.1M823.6 793.1H834.6M829.1 818.1V823.5M823.6 823.5H834.6M841.7 792.3V756.4M836.2 756.4H847.2M841.7 792.3V766.5M836.2 766.5H847.2M841.7 814.9V831.3M836.2 831.3H847.2M854.3 782.2V756.4M848.8 756.4H859.8M866.9 787V772.8M861.4 772.8H872.4M879.5 780.9V766.1M874 766.1H885M879.5 820.7V809.8M874 809.8H885M892 788.7V794.9M886.5 794.9H897.5M892 788.7V801.2M886.5 801.2H897.5M904.6 770.7V743.4M899.1 743.4H910.1M917.2 813.7V775.4M911.7 775.4H922.7M917.2 828.5V845.7M911.7 845.7H922.7M929.8 794.9V769.2M924.3 769.2H935.3M942.4 813.7V787.9M936.9 787.9H947.9M955 798.8V790.3M949.5 790.3H960.5M980.2 812.1V753.6M974.7 753.6H985.7M980.2 812.1V795.7M974.7 795.7H985.7M980.2 817.6V883.9M974.7 883.9H985.7M1005.4 809.8V791.8M999.9 791.8H1010.9M1005.4 809.8V797.3M999.9 797.3H1010.9M1030.5 819.9V831.6M1025 831.6H1036M1055.7 844.1V830.9M1050.2 830.9H1061.2M1055.7 866.8V857.4M1050.2 857.4H1061.2" stroke="#2a2a2a" stroke-width="1.9" fill="none"/><polyline points="690.6,915.6 703.2,896.1 715.8,891.4 728.4,907.8 741,877.4 753.6,875.8 766.1,879 778.7,877.4 791.3,847.7 803.9,818.1 816.5,860.2 829.1,818.1 841.7,814.9 854.3,785.3 866.9,788.7 879.5,780.9 892,770.7 904.6,770.7 917.2,813.7 929.8,802.7 942.4,813.7 955,798.8 980.2,812.1 1005.4,809.8 1030.5,819.9 1055.7,844.1" fill="none" stroke="#111" stroke-width="2.6" stroke-linejoin="miter"/><polyline points="690.6,923.5 703.2,897.7 715.8,893.8 728.4,897.7 741,897.7 753.6,888.3 766.1,885.2 778.7,884.4 791.3,852.4 803.9,813.4 816.5,827.4 829.1,815.7 841.7,792.3 854.3,782.2 866.9,787 879.5,787.9 892,788.7 904.6,775.4 917.2,813.7 929.8,794.9 942.4,814.5 955,843.3 980.2,817.6 1005.4,824.6 1030.5,848 1055.7,846.5" fill="none" stroke="#d42b2b" stroke-width="2.6" stroke-linejoin="miter"/><polyline points="690.6,915.6 703.2,902.4 715.8,903.9 728.4,877.4 741,878.2 753.6,891.4 766.1,890.7 778.7,889.1 791.3,864.1 803.9,847.7 816.5,841.5 829.1,816.5 841.7,798.5 854.3,802.5 866.9,813.5 879.5,820.7 892,817.6 904.6,798.8 917.2,828.5 929.8,822.3 942.4,834 955,816 980.2,812.9 1005.4,823.8 1030.5,866.8 1055.7,866.8" fill="none" stroke="#2b1de6" stroke-width="2.6" stroke-linejoin="miter"/><path d="M690.6 910L695.8 919.2L685.4 919.2ZM703.2 890.5L708.4 899.7L698 899.7ZM715.8 885.8L721 895L710.6 895ZM728.4 902.2L733.6 911.4L723.2 911.4ZM741 871.8L746.2 881L735.8 881ZM753.6 870.2L758.8 879.4L748.4 879.4ZM766.1 873.4L771.3 882.6L760.9 882.6ZM778.7 871.8L783.9 881L773.5 881ZM791.3 842.1L796.5 851.3L786.1 851.3ZM803.9 812.5L809.1 821.7L798.7 821.7ZM816.5 854.6L821.7 863.8L811.3 863.8ZM829.1 812.5L834.3 821.7L823.9 821.7ZM841.7 809.3L846.9 818.5L836.5 818.5ZM854.3 779.7L859.5 788.9L849.1 788.9ZM866.9 783.1L872.1 792.3L861.7 792.3ZM879.5 775.3L884.7 784.5L874.2 784.5ZM892 765.1L897.2 774.3L886.8 774.3ZM904.6 765.1L909.8 774.3L899.4 774.3ZM917.2 808.1L922.4 817.3L912 817.3ZM929.8 797.1L935 806.3L924.6 806.3ZM942.4 808.1L947.6 817.3L937.2 817.3ZM955 793.2L960.2 802.4L949.8 802.4ZM980.2 806.5L985.4 815.7L975 815.7ZM1005.4 804.2L1010.6 813.4L1000.1 813.4ZM1030.5 814.3L1035.7 823.5L1025.3 823.5ZM1055.7 838.5L1060.9 847.7L1050.5 847.7Z" fill="#000"/><path d="M686.1 919h9v9h-9ZM698.7 893.2h9v9h-9ZM711.3 889.3h9v9h-9ZM723.9 893.2h9v9h-9ZM736.5 893.2h9v9h-9ZM749.1 883.8h9v9h-9ZM761.6 880.7h9v9h-9ZM774.2 879.9h9v9h-9ZM786.8 847.9h9v9h-9ZM799.4 808.9h9v9h-9ZM812 822.9h9v9h-9ZM824.6 811.2h9v9h-9ZM837.2 787.8h9v9h-9ZM849.8 777.7h9v9h-9ZM862.4 782.5h9v9h-9ZM875 783.4h9v9h-9ZM887.5 784.2h9v9h-9ZM900.1 770.9h9v9h-9ZM912.7 809.2h9v9h-9ZM925.3 790.4h9v9h-9ZM937.9 810h9v9h-9ZM950.5 838.8h9v9h-9ZM975.7 813.1h9v9h-9ZM1000.9 820.1h9v9h-9ZM1026 843.5h9v9h-9ZM1051.2 842h9v9h-9Z" fill="#000"/><path d="M686.1 915.6a4.5 4.5 0 1 0 9 0a4.5 4.5 0 1 0 -9 0ZM698.7 902.4a4.5 4.5 0 1 0 9 0a4.5 4.5 0 1 0 -9 0ZM711.3 903.9a4.5 4.5 0 1 0 9 0a4.5 4.5 0 1 0 -9 0ZM723.9 877.4a4.5 4.5 0 1 0 9 0a4.5 4.5 0 1 0 -9 0ZM736.5 878.2a4.5 4.5 0 1 0 9 0a4.5 4.5 0 1 0 -9 0ZM749.1 891.4a4.5 4.5 0 1 0 9 0a4.5 4.5 0 1 0 -9 0ZM761.6 890.7a4.5 4.5 0 1 0 9 0a4.5 4.5 0 1 0 -9 0ZM774.2 889.1a4.5 4.5 0 1 0 9 0a4.5 4.5 0 1 0 -9 0ZM786.8 864.1a4.5 4.5 0 1 0 9 0a4.5 4.5 0 1 0 -9 0ZM799.4 847.7a4.5 4.5 0 1 0 9 0a4.5 4.5 0 1 0 -9 0ZM812 841.5a4.5 4.5 0 1 0 9 0a4.5 4.5 0 1 0 -9 0ZM824.6 816.5a4.5 4.5 0 1 0 9 0a4.5 4.5 0 1 0 -9 0ZM837.2 798.5a4.5 4.5 0 1 0 9 0a4.5 4.5 0 1 0 -9 0ZM849.8 802.5a4.5 4.5 0 1 0 9 0a4.5 4.5 0 1 0 -9 0ZM862.4 813.5a4.5 4.5 0 1 0 9 0a4.5 4.5 0 1 0 -9 0ZM875 820.7a4.5 4.5 0 1 0 9 0a4.5 4.5 0 1 0 -9 0ZM887.5 817.6a4.5 4.5 0 1 0 9 0a4.5 4.5 0 1 0 -9 0ZM900.1 798.8a4.5 4.5 0 1 0 9 0a4.5 4.5 0 1 0 -9 0ZM912.7 828.5a4.5 4.5 0 1 0 9 0a4.5 4.5 0 1 0 -9 0ZM925.3 822.3a4.5 4.5 0 1 0 9 0a4.5 4.5 0 1 0 -9 0ZM937.9 834a4.5 4.5 0 1 0 9 0a4.5 4.5 0 1 0 -9 0ZM950.5 816a4.5 4.5 0 1 0 9 0a4.5 4.5 0 1 0 -9 0ZM975.7 812.9a4.5 4.5 0 1 0 9 0a4.5 4.5 0 1 0 -9 0ZM1000.9 823.8a4.5 4.5 0 1 0 9 0a4.5 4.5 0 1 0 -9 0ZM1026 866.8a4.5 4.5 0 1 0 9 0a4.5 4.5 0 1 0 -9 0ZM1051.2 866.8a4.5 4.5 0 1 0 9 0a4.5 4.5 0 1 0 -9 0Z" fill="#000"/><circle cx="853.3" cy="827.4" r="2.1" fill="#222"/><circle cx="880.5" cy="837.8" r="2.1" fill="#222"/><circle cx="892.5" cy="832.3" r="2.1" fill="#222"/><circle cx="904.5" cy="819.1" r="2.1" fill="#222"/><path d="M690.6 616.6V1135.9H1068.3M690.6 1135.9v6M753.6 1135.9v6M816.5 1135.9v6M879.5 1135.9v6M942.4 1135.9v6M1005.4 1135.9v6M1068.3 1135.9v6M690.6 1135.9h-6M690.6 1049.4h-6M690.6 962.8h-6M690.6 876.3h-6M690.6 789.7h-6M690.6 703.2h-6M690.6 616.6h-6" stroke="#111" stroke-width="2.5" fill="none" stroke-linecap="square"/><g font-family='"Liberation Sans", Arial, sans-serif' font-weight="bold" font-size="21.6" fill="#111"><text x="691.1" y="1162.4" text-anchor="middle">0</text><text x="754.1" y="1162.4" text-anchor="middle">5</text><text x="817" y="1162.4" text-anchor="middle">10</text><text x="880" y="1162.4" text-anchor="middle">15</text><text x="942.9" y="1162.4" text-anchor="middle">20</text><text x="1005.9" y="1162.4" text-anchor="middle">25</text><text x="1068.8" y="1162.4" text-anchor="middle">30</text><text x="682" y="1142.8" text-anchor="end">0</text><text x="682" y="1056.3" text-anchor="end">10</text><text x="682" y="969.7" text-anchor="end">20</text><text x="682" y="883.2" text-anchor="end">30</text><text x="682" y="796.6" text-anchor="end">40</text><text x="682" y="710.1" text-anchor="end">50</text><text x="682" y="623.5" text-anchor="end">60</text></g><text x="879.5" y="1195.4" text-anchor="middle" font-family='"Liberation Sans", Arial, sans-serif' font-weight="bold" font-size="25.5" fill="#111">Age (days)</text></g>
<g><path d="M1191.9 991.6V958.1M1186.4 958.1H1197.4M1191.9 991.6V974.5M1186.4 974.5H1197.4M1191.9 1015.8V1005.7M1186.4 1005.7H1197.4M1191.9 1066.6V1059.5M1186.4 1059.5H1197.4M1204.5 968.2V962M1199 962H1210M1217 966.6V957.3M1211.5 957.3H1222.5M1229.6 928.4V914.3M1224.1 914.3H1235.1M1229.6 989.3V981.5M1224.1 981.5H1235.1M1242.1 965.9V958.8M1236.6 958.8H1247.6M1242.1 1040.8V1047.8M1236.6 1047.8H1247.6M1254.7 965.9V952.6M1249.2 952.6H1260.2M1254.7 1007.2V1000.2M1249.2 1000.2H1260.2M1254.7 1040V1047M1249.2 1047H1260.2M1267.2 998.7V992.4M1261.7 992.4H1272.7M1279.8 975.2V952.6M1274.3 952.6H1285.3M1279.8 1002.6V1013.5M1274.3 1013.5H1285.3M1279.8 1027.5V1038.5M1274.3 1038.5H1285.3M1292.3 989.3V973.7M1286.8 973.7H1297.8M1292.3 989.3V977.6M1286.8 977.6H1297.8M1292.3 1027.5V1012.7M1286.8 1012.7H1297.8M1292.3 1027.5V1038.5M1286.8 1038.5H1297.8M1304.9 985.4V945.6M1299.4 945.6H1310.4M1304.9 1009.6V1020.5M1299.4 1020.5H1310.4M1304.9 1036.9V1052.5M1299.4 1052.5H1310.4M1317.4 982.3V942.5M1311.9 942.5H1322.9M1317.4 982.3V951.8M1311.9 951.8H1322.9M1317.4 1014.3V1035.3M1311.9 1035.3H1322.9M1330 995.5V974.5M1324.5 974.5H1335.5M1330 1037.7V1028.3M1324.5 1028.3H1335.5M1342.5 977.6V951M1337 951H1348M1342.5 1047.8V1036.9M1337 1036.9H1348M1342.5 1047.8V1056.4M1337 1056.4H1348M1355.1 979.9V956.5M1349.6 956.5H1360.6M1355.1 979.9V965.1M1349.6 965.1H1360.6M1355.1 1046.3V1039.3M1349.6 1039.3H1360.6M1367.6 953V922.7M1362.1 922.7H1373.1M1367.6 1035.6V1019.5M1362.1 1019.5H1373.1M1367.6 1035.6V1049.2M1362.1 1049.2H1373.1M1380.2 920.5V890.7M1374.7 890.7H1385.7M1380.2 1031.4V1017.2M1374.7 1017.2H1385.7M1380.2 1031.4V1043M1374.7 1043H1385.7M1392.7 904.5V889.2M1387.2 889.2H1398.2M1392.7 1022.7V1010.2M1387.2 1010.2H1398.2M1392.7 1022.7V1032.8M1387.2 1032.8H1398.2M1405.3 907.9V860.3M1399.8 860.3H1410.8M1405.3 907.9V894.6M1399.8 894.6H1410.8M1405.3 1039.1V1026.6M1399.8 1026.6H1410.8M1405.3 1039.1V1053.1M1399.8 1053.1H1410.8M1417.9 866V817.7M1412.4 817.7H1423.4M1417.9 1021.1V1009.4M1412.4 1009.4H1423.4M1417.9 1021.1V1029.7M1412.4 1029.7H1423.4M1430.4 919.6V884.5M1424.9 884.5H1435.9M1430.4 1042.2V1027.4M1424.9 1027.4H1435.9M1430.4 1042.2V1056.2M1424.9 1056.2H1435.9M1443 869V827M1437.5 827H1448.5M1443 869V841.1M1437.5 841.1H1448.5M1443 1018.8V1003.2M1437.5 1003.2H1448.5M1443 1018.8V1032.8M1437.5 1032.8H1448.5M1455.5 850V801.3M1450 801.3H1461M1455.5 850V807.5M1450 807.5H1461M1455.5 1019.5V1005.5M1450 1005.5H1461M1455.5 1019.5V1030.5M1450 1030.5H1461M1480.6 902.5V831.7M1475.1 831.7H1486.1M1480.6 1019.5V991.4M1475.1 991.4H1486.1M1480.6 1019.5V1046.9M1475.1 1046.9H1486.1M1505.7 883.7V830.2M1500.2 830.2H1511.2M1505.7 883.7V848.1M1500.2 848.1H1511.2M1505.7 1014.9V986M1500.2 986H1511.2M1505.7 1014.9V1043M1500.2 1043H1511.2M1530.8 851.5V810.7M1525.3 810.7H1536.3M1530.8 851.5V816.1M1525.3 816.1H1536.3M1530.8 1007.8V991.4M1525.3 991.4H1536.3M1530.8 1007.8V1021.9M1525.3 1021.9H1536.3M1555.9 745.1V699M1550.4 699H1561.4M1555.9 932.1V900.9M1550.4 900.9H1561.4M1555.9 932.1V960.2M1550.4 960.2H1561.4" stroke="#2a2a2a" stroke-width="1.9" fill="none"/><polyline points="1191.9,1066.6 1204.5,1045.5 1217,1040.8 1229.6,1001.8 1242.1,1040.8 1254.7,1040 1267.2,1036.1 1279.8,1027.5 1292.3,1027.5 1304.9,1036.9 1317.4,1014.3 1330,1037.7 1342.5,1047.8 1355.1,1046.3 1367.6,1035.6 1380.2,1031.4 1392.7,1022.7 1405.3,1039.1 1417.9,1021.1 1430.4,1042.2 1443,1018.8 1455.5,1019.5 1480.6,1019.5 1505.7,1014.9 1530.8,1007.8 1555.9,932.1" fill="none" stroke="#111" stroke-width="2.6" stroke-linejoin="miter"/><polyline points="1191.9,991.6 1204.5,968.2 1217,966.6 1229.6,928.4 1242.1,965.9 1254.7,965.9 1267.2,998.7 1279.8,975.2 1292.3,989.3 1304.9,985.4 1317.4,982.3 1330,995.5 1342.5,977.6 1355.1,981.5 1367.6,953 1380.2,920.5 1392.7,905.7 1405.3,907.9 1417.9,866 1430.4,919.6 1443,869 1455.5,850 1480.6,929 1505.7,883.7 1530.8,851.5 1555.9,774" fill="none" stroke="#d42b2b" stroke-width="2.6" stroke-linejoin="miter"/><polyline points="1191.9,1015.8 1204.5,981.5 1217,975.2 1229.6,989.3 1242.1,1007.2 1254.7,1007.2 1267.2,1017.4 1279.8,1002.6 1292.3,992.4 1304.9,1009.6 1317.4,982.3 1330,999.4 1342.5,995.5 1355.1,979.9 1367.6,963.4 1380.2,928.3 1392.7,904.5 1405.3,936 1417.9,902.5 1430.4,925.9 1443,894.6 1455.5,866.7 1480.6,902.5 1505.7,887.6 1530.8,852.6 1555.9,745.1" fill="none" stroke="#2b1de6" stroke-width="2.6" stroke-linejoin="miter"/><path d="M1191.9 1061L1197.1 1070.2L1186.7 1070.2ZM1204.5 1039.9L1209.7 1049.1L1199.3 1049.1ZM1217 1035.2L1222.2 1044.4L1211.8 1044.4ZM1229.6 996.2L1234.8 1005.4L1224.4 1005.4ZM1242.1 1035.2L1247.3 1044.4L1236.9 1044.4ZM1254.7 1034.4L1259.9 1043.6L1249.5 1043.6ZM1267.2 1030.5L1272.4 1039.7L1262 1039.7ZM1279.8 1021.9L1285 1031.1L1274.6 1031.1ZM1292.3 1021.9L1297.5 1031.1L1287.1 1031.1ZM1304.9 1031.3L1310.1 1040.5L1299.7 1040.5ZM1317.4 1008.7L1322.6 1017.9L1312.2 1017.9ZM1330 1032.1L1335.2 1041.3L1324.8 1041.3ZM1342.5 1042.2L1347.7 1051.4L1337.3 1051.4ZM1355.1 1040.7L1360.3 1049.9L1349.9 1049.9ZM1367.6 1030L1372.8 1039.2L1362.4 1039.2ZM1380.2 1025.8L1385.4 1035L1375 1035ZM1392.7 1017.1L1397.9 1026.3L1387.5 1026.3ZM1405.3 1033.5L1410.5 1042.7L1400.1 1042.7ZM1417.9 1015.5L1423.1 1024.7L1412.7 1024.7ZM1430.4 1036.6L1435.6 1045.8L1425.2 1045.8ZM1443 1013.2L1448.2 1022.4L1437.8 1022.4ZM1455.5 1013.9L1460.7 1023.1L1450.3 1023.1ZM1480.6 1013.9L1485.8 1023.1L1475.4 1023.1ZM1505.7 1009.3L1510.9 1018.5L1500.5 1018.5ZM1530.8 1002.2L1536 1011.4L1525.6 1011.4ZM1555.9 926.5L1561.1 935.7L1550.7 935.7Z" fill="#000"/><path d="M1187.4 987.1h9v9h-9ZM1200 963.7h9v9h-9ZM1212.5 962.1h9v9h-9ZM1225.1 923.9h9v9h-9ZM1237.6 961.4h9v9h-9ZM1250.2 961.4h9v9h-9ZM1262.7 994.2h9v9h-9ZM1275.3 970.7h9v9h-9ZM1287.8 984.8h9v9h-9ZM1300.4 980.9h9v9h-9ZM1312.9 977.8h9v9h-9ZM1325.5 991h9v9h-9ZM1338 973.1h9v9h-9ZM1350.6 977h9v9h-9ZM1363.1 948.5h9v9h-9ZM1375.7 916h9v9h-9ZM1388.2 901.2h9v9h-9ZM1400.8 903.4h9v9h-9ZM1413.4 861.5h9v9h-9ZM1425.9 915.1h9v9h-9ZM1438.5 864.5h9v9h-9ZM1451 845.5h9v9h-9ZM1476.1 924.5h9v9h-9ZM1501.2 879.2h9v9h-9ZM1526.3 847h9v9h-9ZM1551.4 769.5h9v9h-9Z" fill="#000"/><path d="M1187.4 1015.8a4.5 4.5 0 1 0 9 0a4.5 4.5 0 1 0 -9 0ZM1200 981.5a4.5 4.5 0 1 0 9 0a4.5 4.5 0 1 0 -9 0ZM1212.5 975.2a4.5 4.5 0 1 0 9 0a4.5 4.5 0 1 0 -9 0ZM1225.1 989.3a4.5 4.5 0 1 0 9 0a4.5 4.5 0 1 0 -9 0ZM1237.6 1007.2a4.5 4.5 0 1 0 9 0a4.5 4.5 0 1 0 -9 0ZM1250.2 1007.2a4.5 4.5 0 1 0 9 0a4.5 4.5 0 1 0 -9 0ZM1262.7 1017.4a4.5 4.5 0 1 0 9 0a4.5 4.5 0 1 0 -9 0ZM1275.3 1002.6a4.5 4.5 0 1 0 9 0a4.5 4.5 0 1 0 -9 0ZM1287.8 992.4a4.5 4.5 0 1 0 9 0a4.5 4.5 0 1 0 -9 0ZM1300.4 1009.6a4.5 4.5 0 1 0 9 0a4.5 4.5 0 1 0 -9 0ZM1312.9 982.3a4.5 4.5 0 1 0 9 0a4.5 4.5 0 1 0 -9 0ZM1325.5 999.4a4.5 4.5 0 1 0 9 0a4.5 4.5 0 1 0 -9 0ZM1338 995.5a4.5 4.5 0 1 0 9 0a4.5 4.5 0 1 0 -9 0ZM1350.6 979.9a4.5 4.5 0 1 0 9 0a4.5 4.5 0 1 0 -9 0ZM1363.1 963.4a4.5 4.5 0 1 0 9 0a4.5 4.5 0 1 0 -9 0ZM1375.7 928.3a4.5 4.5 0 1 0 9 0a4.5 4.5 0 1 0 -9 0ZM1388.2 904.5a4.5 4.5 0 1 0 9 0a4.5 4.5 0 1 0 -9 0ZM1400.8 936a4.5 4.5 0 1 0 9 0a4.5 4.5 0 1 0 -9 0ZM1413.4 902.5a4.5 4.5 0 1 0 9 0a4.5 4.5 0 1 0 -9 0ZM1425.9 925.9a4.5 4.5 0 1 0 9 0a4.5 4.5 0 1 0 -9 0ZM1438.5 894.6a4.5 4.5 0 1 0 9 0a4.5 4.5 0 1 0 -9 0ZM1451 866.7a4.5 4.5 0 1 0 9 0a4.5 4.5 0 1 0 -9 0ZM1476.1 902.5a4.5 4.5 0 1 0 9 0a4.5 4.5 0 1 0 -9 0ZM1501.2 887.6a4.5 4.5 0 1 0 9 0a4.5 4.5 0 1 0 -9 0ZM1526.3 852.6a4.5 4.5 0 1 0 9 0a4.5 4.5 0 1 0 -9 0ZM1551.4 745.1a4.5 4.5 0 1 0 9 0a4.5 4.5 0 1 0 -9 0Z" fill="#000"/><path d="M1224.9 900.3h7M1228.4 896.8v7" stroke="#222" stroke-width="1.6"/><path d="M1210.8 913.6h7M1214.3 910.1v7" stroke="#222" stroke-width="1.6"/><path d="M1200.7 925.3h7M1204.2 921.8v7" stroke="#222" stroke-width="1.6"/><path d="M1182.7 942.5h7M1186.2 939v7" stroke="#222" stroke-width="1.6"/><path d="M1238.2 939.3h7M1241.7 935.8v7" stroke="#222" stroke-width="1.6"/><path d="M1250.7 933.9h7M1254.2 930.4v7" stroke="#222" stroke-width="1.6"/><path d="M1263.2 966.7h7M1266.7 963.2v7" stroke="#222" stroke-width="1.6"/><path d="M1337.3 933.9h7M1340.8 930.4v7" stroke="#222" stroke-width="1.6"/><path d="M1351.4 921.4h7M1354.9 917.9v7" stroke="#222" stroke-width="1.6"/><path d="M1375.2 857.5h7M1378.7 854v7" stroke="#222" stroke-width="1.6"/><path d="M1388.5 843.5h7M1392 840v7" stroke="#222" stroke-width="1.6"/><path d="M1412.7 801.3h7M1416.2 797.8v7" stroke="#222" stroke-width="1.6"/><path d="M1427.5 847.4h7M1431 843.9v7" stroke="#222" stroke-width="1.6"/><path d="M1525.9 779.4h7M1529.4 775.9v7" stroke="#222" stroke-width="1.6"/><circle cx="1209.4" cy="930.7" r="2.1" fill="#222"/><circle cx="1217.8" cy="930.7" r="2.1" fill="#222"/><circle cx="1199.2" cy="942.5" r="2.1" fill="#222"/><circle cx="1207.6" cy="942.5" r="2.1" fill="#222"/><circle cx="1187.5" cy="958.8" r="2.1" fill="#222"/><circle cx="1195.9" cy="958.8" r="2.1" fill="#222"/><circle cx="1349.9" cy="938.5" r="2.1" fill="#222"/><circle cx="1358.3" cy="938.5" r="2.1" fill="#222"/><circle cx="1387" cy="860.6" r="2.1" fill="#222"/><circle cx="1395.4" cy="860.6" r="2.1" fill="#222"/><circle cx="1423.8" cy="863" r="2.1" fill="#222"/><circle cx="1432.2" cy="863" r="2.1" fill="#222"/><circle cx="1525.2" cy="794.3" r="2.1" fill="#222"/><circle cx="1533.6" cy="794.3" r="2.1" fill="#222"/><circle cx="1551.8" cy="681.9" r="2.1" fill="#222"/><circle cx="1560.2" cy="681.9" r="2.1" fill="#222"/><circle cx="1556" cy="974.3" r="2.1" fill="#222"/><path d="M1191.9 621.3V1139.1H1568.5M1191.9 1139.1v6M1254.7 1139.1v6M1317.4 1139.1v6M1380.2 1139.1v6M1443 1139.1v6M1505.7 1139.1v6M1568.5 1139.1v6M1191.9 1139.1h-6M1191.9 1035.5h-6M1191.9 932h-6M1191.9 828.4h-6M1191.9 724.9h-6M1191.9 621.3h-6" stroke="#111" stroke-width="2.5" fill="none" stroke-linecap="square"/><g font-family='"Liberation Sans", Arial, sans-serif' font-weight="bold" font-size="21.6" fill="#111"><text x="1192.4" y="1165.6" text-anchor="middle">0</text><text x="1255.2" y="1165.6" text-anchor="middle">5</text><text x="1317.9" y="1165.6" text-anchor="middle">10</text><text x="1380.7" y="1165.6" text-anchor="middle">15</text><text x="1443.5" y="1165.6" text-anchor="middle">20</text><text x="1506.2" y="1165.6" text-anchor="middle">25</text><text x="1569" y="1165.6" text-anchor="middle">30</text><text x="1183.3" y="1146" text-anchor="end">0</text><text x="1183.3" y="1042.4" text-anchor="end">25</text><text x="1183.3" y="938.9" text-anchor="end">50</text><text x="1183.3" y="835.3" text-anchor="end">75</text><text x="1183.3" y="731.8" text-anchor="end">100</text><text x="1183.3" y="628.2" text-anchor="end">125</text></g><text x="1380.2" y="1198.6" text-anchor="middle" font-family='"Liberation Sans", Arial, sans-serif' font-weight="bold" font-size="25.5" fill="#111">Age (days)</text></g>
<g font-family='"Liberation Sans", Arial, sans-serif' font-size="36" fill="#111">
<text transform="translate(419.6 54.3) scale(0.93 1)">A</text>
<text transform="translate(933.8 53.6) scale(0.874 1)">B</text>
<text transform="translate(215.4 670.3) scale(0.826 1)">C</text>
<text transform="translate(713.6 651.8) scale(0.986 1)">D</text>
<text transform="translate(1213.6 656.3) scale(0.79 1)">E</text>
</g>
<text transform="translate(336.7 270.6) rotate(-90)" text-anchor="middle" font-family='"Liberation Sans", Arial, sans-serif' font-weight="bold" font-size="26" fill="#111">Tidal Volume (mL/kg)</text>
<text transform="translate(846.2 268.4) rotate(-90)" text-anchor="middle" font-family='"Liberation Sans", Arial, sans-serif' font-weight="bold" font-size="25.4" fill="#111">Breathing Frequency (breaths/min)</text>
<text transform="translate(119 880.1) rotate(-90)" text-anchor="middle" font-family='"Liberation Sans", Arial, sans-serif' font-weight="bold" font-size="25.8" fill="#111">Ventilation (mL/min/kg)</text>
<text transform="translate(1147.8 879.7) rotate(-90)" text-anchor="middle" font-family='"Liberation Sans", Arial, sans-serif' font-weight="bold" font-size="26" fill="#111">Air Convection Requirement</text>
<text transform="translate(648.5 1128.5) rotate(-90)" font-family='"Liberation Sans", Arial, sans-serif' font-weight="bold" font-size="26" fill="#111">Oxygen Consumption Rate <tspan font-size="21">(ml/min/kg STPD)</tspan></text>
<g>
<path d="M1391.5 58.1H1429.5" stroke="#000" stroke-width="3.5"/><path d="M1410.4 48.5L1417.5 62L1403.3 62Z" fill="#000"/>
<path d="M1391.5 108H1431.5" stroke="#2b1de6" stroke-width="3.8"/><circle cx="1412" cy="108" r="7.6" fill="#000"/>
<path d="M1391.5 161.1H1431.5" stroke="#d42b2b" stroke-width="3.8"/><rect x="1403.6" y="153.2" width="16.2" height="15.8" fill="#000"/>
<g font-family='"Liberation Sans", Arial, sans-serif' font-size="26.6" fill="#111"><text x="1447.5" y="66.5">Normocarbia</text><text x="1448.5" y="113.7">5% CO<tspan font-size="19" dy="8">2</tspan></text><text x="1448.5" y="167.7">7% CO<tspan font-size="19" dy="8">2</tspan></text></g>
<text x="1405" y="221" font-family='"Liberation Sans", Arial, sans-serif' font-size="24.5" fill="#111">n = 3-6 for each day</text>
</g>
<g font-family='"DejaVu Serif", "Liberation Serif", serif' font-size="21" fill="#262626" stroke="#262626" stroke-width="0.5">
<text x="34" y="1248.3" textLength="1654" lengthAdjust="spacingAndGlyphs"><tspan font-weight="bold">Fig. 1.</tspan> Breathing frequency (breaths/minute)(A), tidal volume (mL/kg) (B), and total ventilation (mL/min/kg) (C), O<tspan font-size="15" dy="5">2</tspan><tspan dy="-5"> consumption rate (mL/min/kg) (D), and the</tspan></text>
<text x="34" y="1279" textLength="1654" lengthAdjust="spacingAndGlyphs">air convection requirement (E) in Sprague-Dawley rats through development (P0-30). Rats were given normocarbic (open triangles), and hypercarbic (5% CO<tspan font-size="15" dy="5">2</tspan><tspan dy="-5">, (open</tspan></text>
<text x="34" y="1309.7" textLength="1654" lengthAdjust="spacingAndGlyphs">circles) and 7% CO<tspan font-size="15" dy="5">2</tspan><tspan dy="-5"> (closed circles)) gas mixtures. (n = 3–6 for each day). Error bars show SEM. * denotes a significant differences (P &lt; 0.05) from day 0 within the</tspan></text>
<text x="34" y="1340.2" textLength="1654" lengthAdjust="spacingAndGlyphs">normocarbic treatment, and ** (5% CO<tspan font-size="15" dy="5">2</tspan><tspan dy="-5">) and + (7% CO</tspan><tspan font-size="15" dy="5">2</tspan><tspan dy="-5">) denote differences (p &lt; 0.05) between hypercarbic and normocarbic gas on that day (ANOVA with</tspan></text>
<text x="34" y="1370.3" textLength="226.5" lengthAdjust="spacingAndGlyphs">Tukey’s post hoc test).</text>
</g>
<g style="mix-blend-mode:multiply">
<g transform="translate(603.9 161.8) rotate(19.9)">
<path d="M0 0H334" stroke="#bedcd0" stroke-width="4.4"/>
<text y="-20" font-family='"Liberation Sans", Arial, sans-serif' font-weight="bold" font-size="84" fill="none" stroke="#cfe9cf" stroke-width="2"><tspan x="10" textLength="34" lengthAdjust="spacingAndGlyphs">E</tspan><tspan font-size="92" x="41.1 86.5">co</tspan><tspan x="137.4">T</tspan><tspan font-size="92" x="186.0 234.4">ec</tspan><tspan x="281.4">h</tspan></text>
<text x="318.5" y="-69" font-family='"Liberation Sans", Arial, sans-serif' font-size="22" fill="none" stroke="#cfe9cf" stroke-width="1.2">®</text>
<text x="-4.9" y="53.8" font-family="'Noto Sans CJK SC', 'WenQuanYi Zen Hei', sans-serif" font-weight="500" font-size="40" letter-spacing="9.4" fill="#c8c4c3">易科泰生态技术</text>
</g>
<g transform="translate(1185.1 374.3) rotate(19.9)">
<path d="M0 0H334" stroke="#bedcd0" stroke-width="4.4"/>
<text y="-20" font-family='"Liberation Sans", Arial, sans-serif' font-weight="bold" font-size="84" fill="none" stroke="#cfe9cf" stroke-width="2"><tspan x="10" textLength="34" lengthAdjust="spacingAndGlyphs">E</tspan><tspan font-size="92" x="41.1 86.5">co</tspan><tspan x="137.4">T</tspan><tspan font-size="92" x="186.0 234.4">ec</tspan><tspan x="281.4">h</tspan></text>
<text x="318.5" y="-69" font-family='"Liberation Sans", Arial, sans-serif' font-size="22" fill="none" stroke="#cfe9cf" stroke-width="1.2">®</text>
<text x="-4.9" y="53.8" font-family="'Noto Sans CJK SC', 'WenQuanYi Zen Hei', sans-serif" font-weight="500" font-size="40" letter-spacing="9.4" fill="#c8c4c3">易科泰生态技术</text>
</g>
<g transform="translate(1328 -18.6) rotate(19.9)">
<path d="M0 0H334" stroke="#bedcd0" stroke-width="4.4"/>
<text y="-20" font-family='"Liberation Sans", Arial, sans-serif' font-weight="bold" font-size="84" fill="none" stroke="#cfe9cf" stroke-width="2"><tspan x="10" textLength="34" lengthAdjust="spacingAndGlyphs">E</tspan><tspan font-size="92" x="41.1 86.5">co</tspan><tspan x="137.4">T</tspan><tspan font-size="92" x="186.0 234.4">ec</tspan><tspan x="281.4">h</tspan></text>
<text x="318.5" y="-69" font-family='"Liberation Sans", Arial, sans-serif' font-size="22" fill="none" stroke="#cfe9cf" stroke-width="1.2">®</text>
<text x="-4.9" y="53.8" font-family="'Noto Sans CJK SC', 'WenQuanYi Zen Hei', sans-serif" font-weight="500" font-size="40" letter-spacing="9.4" fill="#c8c4c3">易科泰生态技术</text>
</g>
<g transform="translate(461 554.7) rotate(19.9)">
<path d="M0 0H334" stroke="#bedcd0" stroke-width="4.4"/>
<text y="-20" font-family='"Liberation Sans", Arial, sans-serif' font-weight="bold" font-size="84" fill="none" stroke="#cfe9cf" stroke-width="2"><tspan x="10" textLength="34" lengthAdjust="spacingAndGlyphs">E</tspan><tspan font-size="92" x="41.1 86.5">co</tspan><tspan x="137.4">T</tspan><tspan font-size="92" x="186.0 234.4">ec</tspan><tspan x="281.4">h</tspan></text>
<text x="318.5" y="-69" font-family='"Liberation Sans", Arial, sans-serif' font-size="22" fill="none" stroke="#cfe9cf" stroke-width="1.2">®</text>
<text x="-4.9" y="53.8" font-family="'Noto Sans CJK SC', 'WenQuanYi Zen Hei', sans-serif" font-weight="500" font-size="40" letter-spacing="9.4" fill="#c8c4c3">易科泰生态技术</text>
</g>
<g transform="translate(-120.2 342.2) rotate(19.9)">
<path d="M0 0H334" stroke="#bedcd0" stroke-width="4.4"/>
<text y="-20" font-family='"Liberation Sans", Arial, sans-serif' font-weight="bold" font-size="84" fill="none" stroke="#cfe9cf" stroke-width="2"><tspan x="10" textLength="34" lengthAdjust="spacingAndGlyphs">E</tspan><tspan font-size="92" x="41.1 86.5">co</tspan><tspan x="137.4">T</tspan><tspan font-size="92" x="186.0 234.4">ec</tspan><tspan x="281.4">h</tspan></text>
<text x="318.5" y="-69" font-family='"Liberation Sans", Arial, sans-serif' font-size="22" fill="none" stroke="#cfe9cf" stroke-width="1.2">®</text>
<text x="-4.9" y="53.8" font-family="'Noto Sans CJK SC', 'WenQuanYi Zen Hei', sans-serif" font-weight="500" font-size="40" letter-spacing="9.4" fill="#c8c4c3">易科泰生态技术</text>
</g>
<g transform="translate(1042.2 767.2) rotate(19.9)">
<path d="M0 0H334" stroke="#bedcd0" stroke-width="4.4"/>
<text y="-20" font-family='"Liberation Sans", Arial, sans-serif' font-weight="bold" font-size="84" fill="none" stroke="#cfe9cf" stroke-width="2"><tspan x="10" textLength="34" lengthAdjust="spacingAndGlyphs">E</tspan><tspan font-size="92" x="41.1 86.5">co</tspan><tspan x="137.4">T</tspan><tspan font-size="92" x="186.0 234.4">ec</tspan><tspan x="281.4">h</tspan></text>
<text x="318.5" y="-69" font-family='"Liberation Sans", Arial, sans-serif' font-size="22" fill="none" stroke="#cfe9cf" stroke-width="1.2">®</text>
<text x="-4.9" y="53.8" font-family="'Noto Sans CJK SC', 'WenQuanYi Zen Hei', sans-serif" font-weight="500" font-size="40" letter-spacing="9.4" fill="#c8c4c3">易科泰生态技术</text>
</g>
<g transform="translate(1623.4 979.7) rotate(19.9)">
<path d="M0 0H334" stroke="#bedcd0" stroke-width="4.4"/>
<text y="-20" font-family='"Liberation Sans", Arial, sans-serif' font-weight="bold" font-size="84" fill="none" stroke="#cfe9cf" stroke-width="2"><tspan x="10" textLength="34" lengthAdjust="spacingAndGlyphs">E</tspan><tspan font-size="92" x="41.1 86.5">co</tspan><tspan x="137.4">T</tspan><tspan font-size="92" x="186.0 234.4">ec</tspan><tspan x="281.4">h</tspan></text>
<text x="318.5" y="-69" font-family='"Liberation Sans", Arial, sans-serif' font-size="22" fill="none" stroke="#cfe9cf" stroke-width="1.2">®</text>
<text x="-4.9" y="53.8" font-family="'Noto Sans CJK SC', 'WenQuanYi Zen Hei', sans-serif" font-weight="500" font-size="40" letter-spacing="9.4" fill="#c8c4c3">易科泰生态技术</text>
</g>
<g transform="translate(318.1 947.6) rotate(19.9)">
<path d="M0 0H334" stroke="#bedcd0" stroke-width="4.4"/>
<text y="-20" font-family='"Liberation Sans", Arial, sans-serif' font-weight="bold" font-size="84" fill="none" stroke="#cfe9cf" stroke-width="2"><tspan x="10" textLength="34" lengthAdjust="spacingAndGlyphs">E</tspan><tspan font-size="92" x="41.1 86.5">co</tspan><tspan x="137.4">T</tspan><tspan font-size="92" x="186.0 234.4">ec</tspan><tspan x="281.4">h</tspan></text>
<text x="318.5" y="-69" font-family='"Liberation Sans", Arial, sans-serif' font-size="22" fill="none" stroke="#cfe9cf" stroke-width="1.2">®</text>
<text x="-4.9" y="53.8" font-family="'Noto Sans CJK SC', 'WenQuanYi Zen Hei', sans-serif" font-weight="500" font-size="40" letter-spacing="9.4" fill="#c8c4c3">易科泰生态技术</text>
</g>
<g transform="translate(-263.1 735.1) rotate(19.9)">
<path d="M0 0H334" stroke="#bedcd0" stroke-width="4.4"/>
<text y="-20" font-family='"Liberation Sans", Arial, sans-serif' font-weight="bold" font-size="84" fill="none" stroke="#cfe9cf" stroke-width="2"><tspan x="10" textLength="34" lengthAdjust="spacingAndGlyphs">E</tspan><tspan font-size="92" x="41.1 86.5">co</tspan><tspan x="137.4">T</tspan><tspan font-size="92" x="186.0 234.4">ec</tspan><tspan x="281.4">h</tspan></text>
<text x="318.5" y="-69" font-family='"Liberation Sans", Arial, sans-serif' font-size="22" fill="none" stroke="#cfe9cf" stroke-width="1.2">®</text>
<text x="-4.9" y="53.8" font-family="'Noto Sans CJK SC', 'WenQuanYi Zen Hei', sans-serif" font-weight="500" font-size="40" letter-spacing="9.4" fill="#c8c4c3">易科泰生态技术</text>
</g>
<g transform="translate(899.3 1160.1) rotate(19.9)">
<path d="M0 0H334" stroke="#bedcd0" stroke-width="4.4"/>
<text y="-20" font-family='"Liberation Sans", Arial, sans-serif' font-weight="bold" font-size="84" fill="none" stroke="#cfe9cf" stroke-width="2"><tspan x="10" textLength="34" lengthAdjust="spacingAndGlyphs">E</tspan><tspan font-size="92" x="41.1 86.5">co</tspan><tspan x="137.4">T</tspan><tspan font-size="92" x="186.0 234.4">ec</tspan><tspan x="281.4">h</tspan></text>
<text x="318.5" y="-69" font-family='"Liberation Sans", Arial, sans-serif' font-size="22" fill="none" stroke="#cfe9cf" stroke-width="1.2">®</text>
<text x="-4.9" y="53.8" font-family="'Noto Sans CJK SC', 'WenQuanYi Zen Hei', sans-serif" font-weight="500" font-size="40" letter-spacing="9.4" fill="#c8c4c3">易科泰生态技术</text>
</g>
<g transform="translate(1480.5 1372.6) rotate(19.9)">
<path d="M0 0H334" stroke="#bedcd0" stroke-width="4.4"/>
<text y="-20" font-family='"Liberation Sans", Arial, sans-serif' font-weight="bold" font-size="84" fill="none" stroke="#cfe9cf" stroke-width="2"><tspan x="10" textLength="34" lengthAdjust="spacingAndGlyphs">E</tspan><tspan font-size="92" x="41.1 86.5">co</tspan><tspan x="137.4">T</tspan><tspan font-size="92" x="186.0 234.4">ec</tspan><tspan x="281.4">h</tspan></text>
<text x="318.5" y="-69" font-family='"Liberation Sans", Arial, sans-serif' font-size="22" fill="none" stroke="#cfe9cf" stroke-width="1.2">®</text>
<text x="-4.9" y="53.8" font-family="'Noto Sans CJK SC', 'WenQuanYi Zen Hei', sans-serif" font-weight="500" font-size="40" letter-spacing="9.4" fill="#c8c4c3">易科泰生态技术</text>
</g>
<g transform="translate(175.2 1340.5) rotate(19.9)">
<path d="M0 0H334" stroke="#bedcd0" stroke-width="4.4"/>
<text y="-20" font-family='"Liberation Sans", Arial, sans-serif' font-weight="bold" font-size="84" fill="none" stroke="#cfe9cf" stroke-width="2"><tspan x="10" textLength="34" lengthAdjust="spacingAndGlyphs">E</tspan><tspan font-size="92" x="41.1 86.5">co</tspan><tspan x="137.4">T</tspan><tspan font-size="92" x="186.0 234.4">ec</tspan><tspan x="281.4">h</tspan></text>
<text x="318.5" y="-69" font-family='"Liberation Sans", Arial, sans-serif' font-size="22" fill="none" stroke="#cfe9cf" stroke-width="1.2">®</text>
<text x="-4.9" y="53.8" font-family="'Noto Sans CJK SC', 'WenQuanYi Zen Hei', sans-serif" font-weight="500" font-size="40" letter-spacing="9.4" fill="#c8c4c3">易科泰生态技术</text>
</g>
</g>
</svg></body></html>
